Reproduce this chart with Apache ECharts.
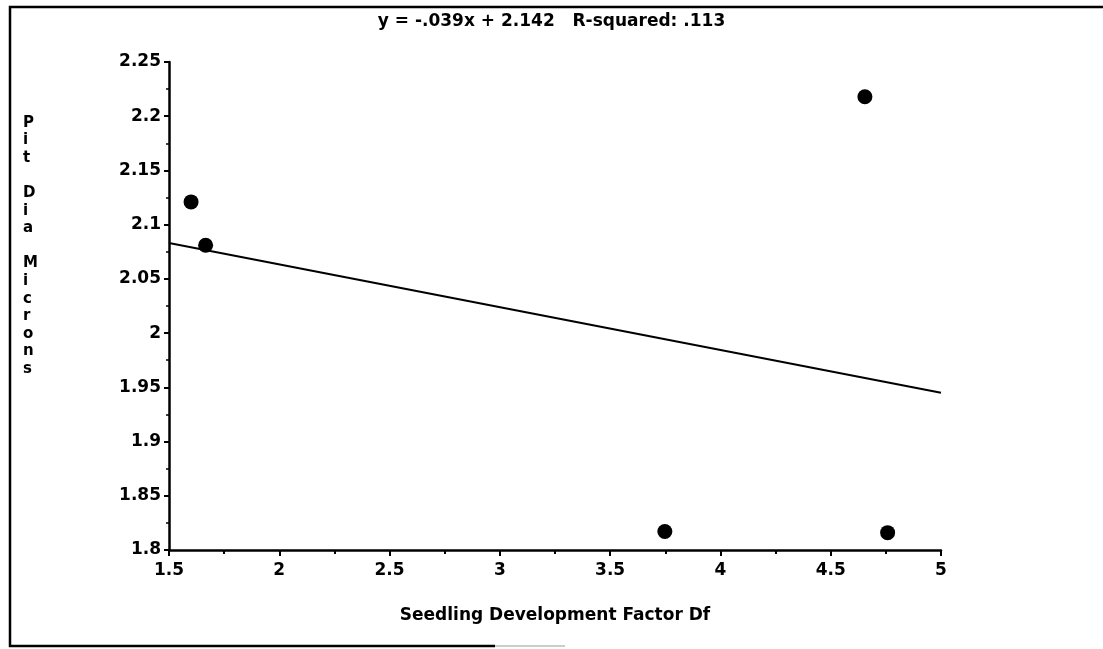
<!DOCTYPE html>
<html>
<head>
<meta charset="utf-8">
<script src="https://cdn.jsdelivr.net/npm/echarts@6/dist/echarts.min.js"></script>
<style>
  html, body { margin: 0; padding: 0; background: #fff; }
  #chart { width: 1103px; height: 649px; }
</style>
</head>
<body>
<div id="chart"></div>
<script>
// values
const dfValues = [1.60, 1.666, 3.748, 4.655, 4.758]
const pitDia = [2.121, 2.081, 1.817, 2.218, 1.816]
// regression line end points (y = -.039x + 2.142)
const fitX = [1.5, 5]
const fitY = [2.083, 1.945]
const titleText = 'y = -.039x + 2.142   R-squared: .113'
const xName = 'Seedling Development Factor Df'
const yLetters = ['P', 'i', 't', '', 'D', 'i', 'a', '', 'M', 'i', 'c', 'r', 'o', 'n', 's']

const FONT = 'DejaVu Sans'
let myChart = echarts.init(document.getElementById('chart'))

let points = dfValues.map((x, i) => [x, pitDia[i]])
let fitLine = fitX.map((x, i) => [x, fitY[i]])

myChart.setOption({
  animation: false,
  backgroundColor: '#fff',
  title: {
    text: titleText,
    left: 'center',
    top: 8,
    textStyle: { fontFamily: FONT, fontSize: 17, fontWeight: 'bold', color: '#000' }
  },
  grid: { left: 169, right: 162, top: 62, bottom: 99 },
  xAxis: {
    type: 'value',
    min: 1.5,
    max: 5,
    interval: 0.5,
    name: xName,
    nameLocation: 'middle',
    nameGap: 57,
    nameTextStyle: { fontFamily: FONT, fontSize: 17, fontWeight: 'bold', color: '#000' },
    axisLine: { lineStyle: { color: '#000', width: 2.5 } },
    axisTick: { show: true, length: 6, lineStyle: { color: '#000', width: 2 } },
    minorTick: { show: true, splitNumber: 2, length: 4, lineStyle: { color: '#000', width: 2 } },
    axisLabel: { fontFamily: FONT, fontSize: 17, fontWeight: 'bold', color: '#000', margin: 12 },
    splitLine: { show: false }
  },
  yAxis: {
    type: 'value',
    min: 1.8,
    max: 2.25,
    interval: 0.05,
    axisLine: { show: true, lineStyle: { color: '#000', width: 2.5 } },
    axisTick: { show: true, length: 5, lineStyle: { color: '#000', width: 2 } },
    minorTick: { show: true, splitNumber: 2, length: 3, lineStyle: { color: '#000', width: 1.5 } },
    axisLabel: {
      fontFamily: FONT, fontSize: 17, fontWeight: 'bold', color: '#000', margin: 8,
      formatter: v => String(Math.round(v * 100) / 100)
    },
    splitLine: { show: false }
  },
  graphic: [
    {
      type: 'text',
      left: 23,
      top: 114,
      style: {
        text: yLetters.join('\n'),
        font: 'bold 15px "DejaVu Sans"',
        lineHeight: 17.6,
        align: 'center',
        fill: '#000'
      }
    },
    {
      type: 'polyline',
      shape: { points: [[495, 646], [10, 646], [10, 7], [1103, 7]] },
      style: { stroke: '#000', lineWidth: 2.5, fill: null }
    },
    {
      type: 'line',
      shape: { x1: 495, y1: 646, x2: 565, y2: 646 },
      style: { stroke: '#999', lineWidth: 1 }
    }
  ],
  series: [
    {
      type: 'line',
      data: fitLine,
      symbol: 'none',
      lineStyle: { color: '#000', width: 2 },
      silent: true
    },
    {
      type: 'scatter',
      data: points,
      symbol: 'circle',
      symbolSize: 15,
      itemStyle: { color: '#000', opacity: 1 }
    }
  ]
})
</script>
</body>
</html>
